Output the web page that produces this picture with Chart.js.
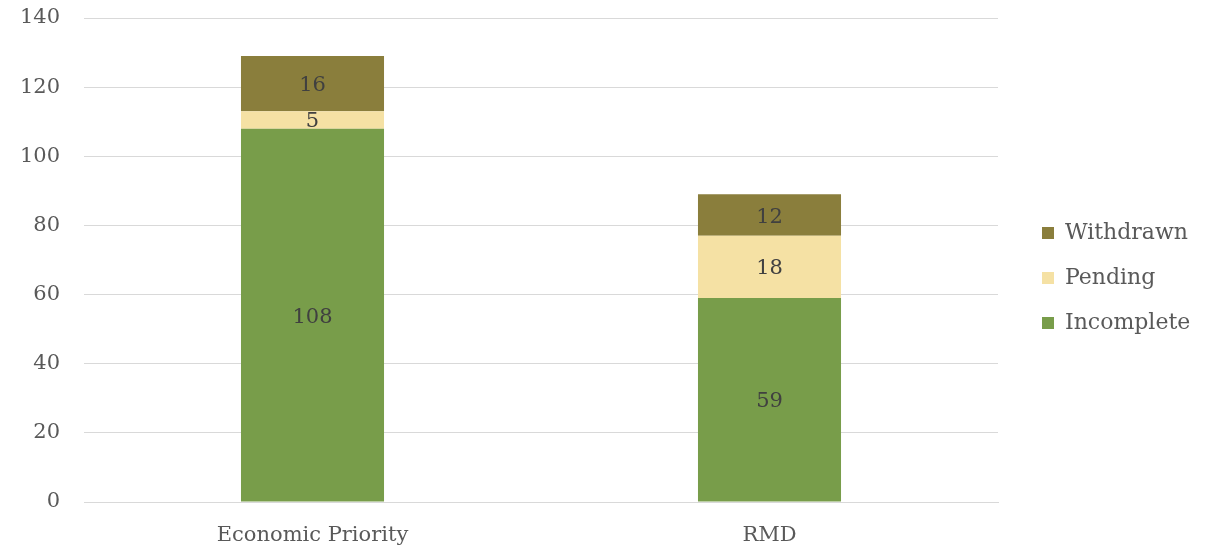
<!DOCTYPE html>
<html>
<head>
<meta charset="utf-8">
<script src="https://cdn.jsdelivr.net/npm/chart.js@4/dist/chart.umd.min.js"></script>
<style>
  html, body { margin: 0; padding: 0; background: #fff; }
  #wrap { width: 1209px; height: 548px; position: relative; }
</style>
</head>
<body>
<div id="wrap"><canvas id="chart"></canvas></div>
<script>
const categories = ['Economic Priority', 'RMD'];
const incomplete = [108, 59];
const pending = [5, 18];
const withdrawn = [16, 12];
const yTicks = [0, 20, 40, 60, 80, 100, 120, 140];

const FONT = '"DejaVu Serif", serif';
const SIZE = 21;

// draws the value in the middle of each bar segment
const barLabels = {
  id: 'barLabels',
  afterDatasetsDraw(chart) {
    const ctx = chart.ctx;
    ctx.save();
    ctx.font = SIZE + 'px ' + FONT;
    ctx.fillStyle = '#404040';
    ctx.textAlign = 'center';
    ctx.textBaseline = 'middle';
    chart.data.datasets.forEach((ds, i) => {
      const meta = chart.getDatasetMeta(i);
      meta.data.forEach((bar, j) => {
        const p = bar.getProps(['x', 'y', 'base'], true);
        ctx.fillText(ds.data[j], p.x, (p.y + p.base) / 2 + 2);
      });
    });
    ctx.restore();
  }
};

// fixed legend column so the plot ends where the reference does
const legendWidth = {
  id: 'legendWidth',
  beforeInit(chart) {
    const orig = chart.legend.fit;
    chart.legend.fit = function () {
      orig.call(this);
      this.width = 211;
    };
  },
  afterLayout(chart) {
    // nudge the legend items into place
    chart.legend.left += 21;
    chart.legend.right += 21;
    chart.legend.top -= 5;
    chart.legend.bottom -= 5;
  }
};

new Chart(document.getElementById('chart'), {
  type: 'bar',
  data: {
    labels: categories,
    datasets: [
      { label: 'Incomplete', data: incomplete, backgroundColor: '#789D4A' },
      { label: 'Pending', data: pending, backgroundColor: '#F5E1A4' },
      { label: 'Withdrawn', data: withdrawn, backgroundColor: '#8A7E3C' }
    ]
  },
  options: {
    responsive: true,
    maintainAspectRatio: false,
    animation: false,
    layout: { padding: { left: 0, top: 18, bottom: 0, right: 0 } },
    datasets: { bar: { categoryPercentage: 1, barPercentage: 0.313 } },
    scales: {
      x: {
        stacked: true,
        afterFit(axis) { axis.height = 46; },
        grid: { display: false, drawTicks: false },
        border: { color: '#d9d9d9', width: 1 },
        ticks: { color: '#595959', font: { family: FONT, size: SIZE }, padding: 21 }
      },
      y: {
        stacked: true,
        min: 0,
        max: 140,
        afterBuildTicks(axis) { axis.ticks = yTicks.map(v => ({ value: v })); },
        afterFit(axis) {
          axis.width = 84;
          axis.paddingTop = 0;
          axis.paddingBottom = 0;
        },
        grid: { color: '#d9d9d9', lineWidth: 1, drawTicks: false },
        border: { display: false },
        ticks: { color: '#595959', font: { family: FONT, size: SIZE }, padding: 24 }
      }
    },
    plugins: {
      legend: {
        position: 'right',
        reverse: true,
        labels: {
          color: '#595959',
          font: { family: FONT, size: 22 },
          boxWidth: 12,
          boxHeight: 12,
          padding: 23
        }
      },
      tooltip: { enabled: false }
    }
  },
  plugins: [barLabels, legendWidth]
});
</script>
</body>
</html>
